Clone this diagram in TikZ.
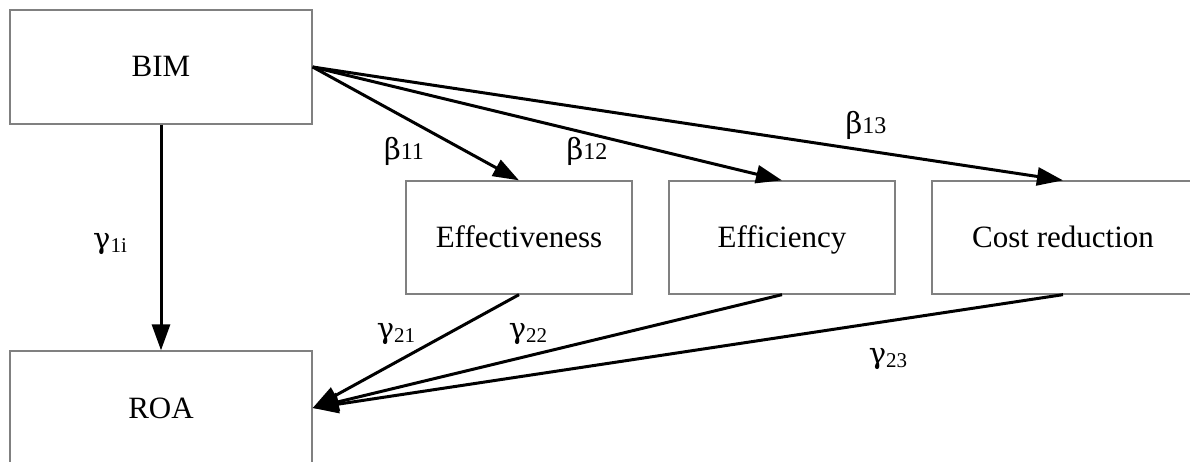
\documentclass[tikz,border=0pt]{standalone}
\usepackage{fontspec}
\setmainfont{Liberation Serif}
\newfontfamily\greekfont{DejaVu Serif}
\usetikzlibrary{arrows.meta}
\newcommand\mysub[1]{{\fontsize{24}{24}\selectfont #1}}
\newcommand\mylow[1]{\raisebox{-4pt}{\fontsize{21}{21}\selectfont #1}}
\newcommand\gk[1]{{\greekfont\fontsize{29}{29}\selectfont #1}}
\tikzset{
  box/.style={draw=gray, line width=1.3pt, rectangle, inner sep=0pt, text height=24pt, text depth=4pt, font=\fontsize{31}{31}\selectfont},
  conn/.style={line width=3pt, -{Triangle[length=26pt,width=18pt]}},
  lbl/.style={inner sep=0pt}
}
\begin{document}
\begin{tikzpicture}[x=1pt,y=-1pt]
\useasboundingbox (0,0) rectangle (1190,462);
\clip (0,0) rectangle (1190,462);
\fill[white] (0,0) rectangle (1190,462);
\node[box, minimum width=302pt, minimum height=114pt] (bim) at (161,67) {BIM};
\node[box, minimum width=302pt, minimum height=114pt] (roa) at (161,408) {ROA};
\node[box, minimum width=226pt, minimum height=113pt] (eff) at (519,237.5) {Effectiveness};
\node[box, minimum width=226pt, minimum height=113pt] (efc) at (782,237.5) {Efficiency};
\node[box, minimum width=262pt, minimum height=113pt] (cst) at (1063,237.5) {Cost reduction};
\draw[conn] (bim.south) -- (roa.north);
\draw[conn] (bim.east) -- (eff.north);
\draw[conn] (bim.east) -- (efc.north);
\draw[conn] (bim.east) -- (cst.north);
\draw[conn] (eff.south) -- (roa.east);
\draw[conn] (efc.south) -- (roa.east);
\draw[conn] (cst.south) -- (roa.east);
\node[lbl] (l11) at (404,151) {\gk{β}\mysub{11}};
\node[lbl] (l12) at (587,151) {\gk{β}\mysub{12}};
\node[lbl] (l13) at (866,125) {\gk{β}\mysub{13}};
\node[lbl] (g1i) at (110,244) {\gk{γ}\mylow{1i}};
\node[lbl] (g21) at (396,334) {\gk{γ}\mylow{21}};
\node[lbl] (g22) at (528,334) {\gk{γ}\mylow{22}};
\node[lbl] (g23) at (888,359) {\gk{γ}\mylow{23}};
\end{tikzpicture}
\end{document}
